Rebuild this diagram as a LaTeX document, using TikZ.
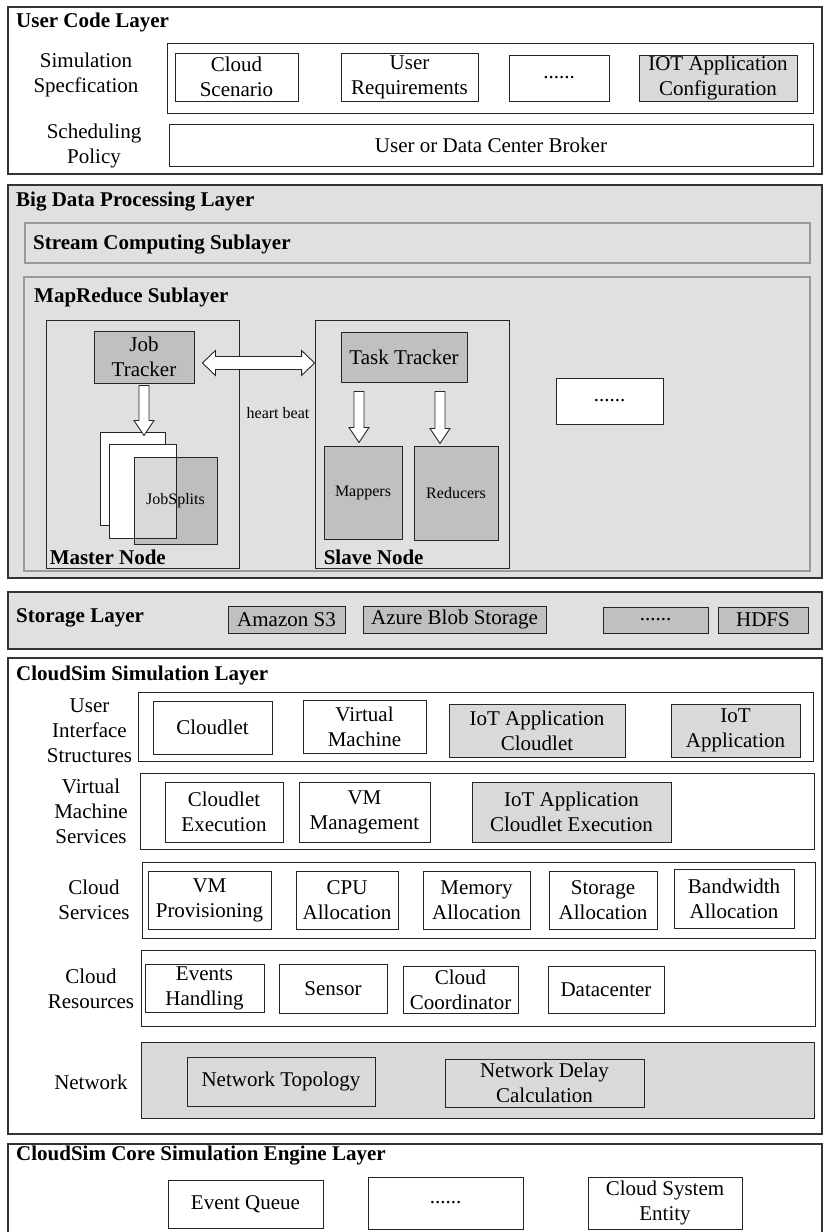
\documentclass[tikz,border=0pt]{standalone}
\usepackage{fontspec}
\setmainfont{Liberation Serif}
\usetikzlibrary{calc}
\usetikzlibrary{positioning}

\definecolor{layerbg}{RGB}{224,224,224}
\definecolor{darkbox}{RGB}{192,192,192}
\definecolor{lightbox}{RGB}{217,217,217}

\tikzset{
  wh/.style 2 args={minimum width=#1pt,minimum height=#2pt},
  layer/.style={draw=black!80,line width=1.3pt,inner sep=0pt},
  sublayer/.style={draw=black!40,line width=2.6pt,fill=layerbg,inner sep=0pt},
  title/.style={font=\bfseries,anchor=west,inner sep=0pt},
  plainbox/.style={draw=black!85,line width=0.9pt,fill=white,inner sep=0pt},
  box/.style={plainbox,align=center},
  dotbox/.style={plainbox,text height=0pt,text depth=0pt},
  side/.style={align=center,inner sep=0pt},
  small/.style={font=\fontsize{16}{19}\selectfont},
  blockdown/.style={draw=black!85,line width=0.9pt,fill=white,
    to path={-- ($(\tikztostart)+(5,0)$) -- ($(\tikztotarget)+(5,-15)$)
      -- ($(\tikztotarget)+(10,-15)$) -- (\tikztotarget)
      -- ($(\tikztotarget)+(-10,-15)$) -- ($(\tikztotarget)+(-5,-15)$)
      -- ($(\tikztostart)+(-5,0)$) -- cycle}},
  blockboth/.style={draw=black!85,line width=0.9pt,fill=white,
    to path={-- ($(\tikztostart)+(13,-12.5)$) -- ($(\tikztostart)+(13,-6.5)$)
      -- ($(\tikztotarget)+(-13,-6.5)$) -- ($(\tikztotarget)+(-13,-12.5)$)
      -- (\tikztotarget) -- ($(\tikztotarget)+(-13,12.5)$)
      -- ($(\tikztotarget)+(-13,6.5)$) -- ($(\tikztostart)+(13,6.5)$)
      -- ($(\tikztostart)+(13,12.5)$) -- cycle}}
}

\begin{document}
\fontsize{21}{25}\selectfont
\begin{tikzpicture}[x=1pt,y=-1pt]
\useasboundingbox (0,0) rectangle (825,1232);
\clip (0,0) rectangle (825,1232);

% user code layer
\node[layer,wh={814}{167}] (usercode) at (415,90.5) {};
\node[title] (usercode title) at (16,22) {User Code Layer};
\node[side] (simspec) at (86,74.5) {Simulation\\Specfication};
\node[box,wh={646}{70}] (specrow) at (490,78) {};
\node[box,wh={123}{48}] (cloudscen) at (236.5,77) {Cloud\\Scenario};
\node[box,wh={137}{48}] (userreq) at (409.5,77) {User\\Requirements};
\node[dotbox,wh={100}{46}] (specdots) at (559,78) {......};
\node[box,fill=lightbox,wh={158}{46}] (iotconf) at (718,78) {IOT Application\\Configuration};
\node[side] (schedpol) at (94,146) {Scheduling\\Policy};
\node[box,wh={644}{42}] (broker) at (491,145) {User or Data Center Broker};

% big data processing layer
\node[layer,fill=layerbg,wh={814}{393}] (bigdata) at (415,381.5) {};
\node[title] (bigdata title) at (16,202) {Big Data Processing Layer};
\node[sublayer,wh={785}{40}] (stream) at (417.5,243) {};
\node[title] (stream title) at (33,245) {Stream Computing Sublayer};
\node[sublayer,wh={786}{294}] (mapred) at (417,424) {};
\node[title] (mapred title) at (34,297) {MapReduce Sublayer};

\node[box,fill=layerbg,wh={193}{248}] (master) at (142.5,444) {};
\node[title,above right=4pt and 4pt of master.south west] (master title) {Master Node};
\node[box,fill=layerbg,wh={194}{248}] (slave) at (412,444) {};
\node[title,above right=4pt and 9pt of slave.south west] (slave title) {Slave Node};

\node[box,fill=darkbox,wh={100}{52}] (jt) at (144,357) {Job\\Tracker};
\node[box,fill=darkbox,wh={126}{50}] (tt) at (404,357) {Task Tracker};
\node[box,wh={65}{93}] (page1) at (132.5,478.5) {};
\node[box,wh={67}{94}] (page2) at (142.5,491) {};
\node[box,small,fill=black,fill opacity=0.15,text opacity=1,wh={83}{87}] (splits) at (175.5,500.5) {JobSplits};
\node[box,small,fill=darkbox,wh={78}{93}] (mappers) at (363,492.5) {Mappers};
\node[box,small,fill=darkbox,wh={84}{94}] (reducers) at (456,493) {Reducers};
\node[dotbox,wh={107}{46}] (mrdots) at (609.5,401) {......};
\node[small] (heartbeat) at (278,413) {heart beat};

\draw[blockdown] ($(jt.south)+(0,2)$) to ($(jt.south)+(0,52)$);
\draw[blockboth] ($(jt.east)+(8,6)$) to ($(tt.west)+(-26,6)$);
\draw[blockdown] ($(tt.south)+(-45,9)$) to ($(tt.south)+(-45,60)$);
\draw[blockdown] ($(tt.south)+(36,9)$) to ($(tt.south)+(36,61)$);

% storage layer
\node[layer,fill=layerbg,wh={814}{57}] (storage) at (415,620.5) {};
\node[title] (storage title) at (16,618) {Storage Layer};
\node[box,fill=darkbox,wh={117}{27}] (s3) at (286.5,619.5) {Amazon S3};
\node[box,fill=darkbox,wh={183}{27}] (azure) at (454.5,619.5) {Azure Blob Storage};
\node[dotbox,fill=darkbox,wh={105}{26}] (stdots) at (655.5,620) {......};
\node[box,fill=darkbox,wh={90}{26}] (hdfs) at (763,620) {HDFS};

% cloudsim simulation layer
\node[layer,wh={814}{476}] (cloudsim) at (415,896) {};
\node[title] (cloudsim title) at (16,675) {CloudSim Simulation Layer};

\node[side] (uilbl) at (89.5,731) {User\\Interface\\Structures};
\node[box,wh={675}{69}] (uirow) at (475.5,726.5) {};
\node[box,wh={119}{53}] (cloudlet) at (212.5,727.5) {Cloudlet};
\node[box,wh={123}{53}] (vm) at (364.5,726.5) {Virtual\\Machine};
\node[box,fill=lightbox,wh={176}{53}] (iotcloudlet) at (537,730.5) {IoT Application\\Cloudlet};
\node[box,fill=lightbox,wh={129}{53}] (iotapp) at (735.5,730.5) {IoT\\Application};

\node[side] (vmlbl) at (91,811) {Virtual\\Machine\\Services};
\node[box,wh={674}{76}] (vmrow) at (477,811) {};
\node[box,wh={118}{60}] (cletexec) at (224,812) {Cloudlet\\Execution};
\node[box,wh={131}{60}] (vmmgmt) at (364.5,812) {VM\\Management};
\node[box,fill=lightbox,wh={199}{60}] (iotexec) at (571.5,812) {IoT Application\\Cloudlet Execution};

\node[side] (cslbl) at (94,900) {Cloud\\Services};
\node[box,wh={673}{76}] (csrow) at (478.5,900) {};
\node[box,wh={123}{58}] (vmprov) at (209.5,900) {VM\\Provisioning};
\node[box,wh={102}{58}] (cpualloc) at (347,900) {CPU\\Allocation};
\node[box,wh={107}{58}] (memalloc) at (476.5,900) {Memory\\Allocation};
\node[box,wh={108}{58}] (stoalloc) at (603,900) {Storage\\Allocation};
\node[box,wh={120}{59}] (bwalloc) at (734,898.5) {Bandwidth\\Allocation};

\node[side] (crlbl) at (91,989) {Cloud\\Resources};
\node[box,wh={674}{76}] (crrow) at (478,988) {};
\node[box,wh={119}{48}] (events) at (204.5,988) {Events\\Handling};
\node[box,wh={108}{49}] (sensor) at (333,988.5) {Sensor};
\node[box,wh={115}{47}] (coord) at (460.5,989.5) {Cloud\\Coordinator};
\node[box,wh={116}{47}] (dc) at (606,989.5) {Datacenter};

\node[side] (netlbl) at (91,1082) {Network};
\node[box,fill=lightbox,wh={673}{76}] (netrow) at (477.5,1080) {};
\node[box,fill=lightbox,wh={188}{49}] (topo) at (281,1081.5) {Network Topology};
\node[box,fill=lightbox,wh={199}{48}] (delay) at (544.5,1083) {Network Delay\\Calculation};

% core engine layer
\node[layer,wh={814}{100}] (core) at (415,1194) {};
\node[title] (core title) at (16,1156) {CloudSim Core Simulation Engine Layer};
\node[box,wh={155}{48}] (queue) at (245.5,1204) {Event Queue};
\node[dotbox,wh={155}{52}] (coredots) at (445.5,1203) {......};
\node[box,wh={154}{52}] (entity) at (665,1203) {Cloud System\\Entity};
\end{tikzpicture}
\end{document}
